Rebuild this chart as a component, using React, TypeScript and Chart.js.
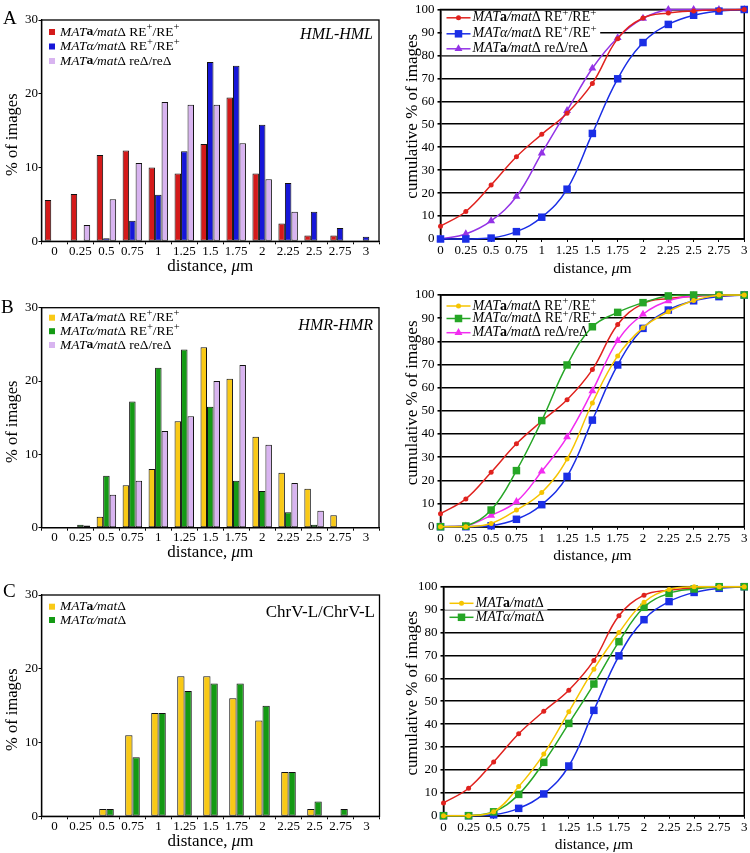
import React, { useEffect, useRef } from 'react';
import { Chart, registerables } from 'chart.js';

Chart.register(...registerables);

const FONT = "'Liberation Serif', 'Times New Roman', Times, serif";

// ---------- tick labels ----------
const distanceLabels = ['0', '0.25', '0.5', '0.75', '1', '1.25', '1.5', '1.75', '2', '2.25', '2.5', '2.75', '3'];

// ---------- Panel A : HML-HML histogram (% of images) ----------
const histHML_aRE = [5.6, 6.4, 11.7, 12.3, 10.0, 9.2, 13.2, 19.5, 9.2, 2.4, 0.8, 0.8, 0];
const histHML_alphaRE = [0, 0, 0.4, 2.8, 6.3, 12.2, 24.3, 23.8, 15.8, 7.9, 4.0, 1.8, 0.6];
const histHML_aReDelta = [0, 2.2, 5.7, 10.6, 18.9, 18.5, 18.5, 13.3, 8.4, 4.0, 0, 0, 0];

// ---------- Panel B : HMR-HMR histogram ----------
const histHMR_aRE = [0, 0, 1.5, 5.8, 8.0, 14.5, 24.6, 20.3, 12.4, 7.5, 5.3, 1.7, 0];
const histHMR_alphaRE = [0, 0.4, 7.1, 17.2, 21.8, 24.3, 16.5, 6.4, 5.0, 2.1, 0.4, 0, 0];
const histHMR_aReDelta = [0, 0.3, 4.5, 6.4, 13.2, 15.2, 20.0, 22.2, 11.3, 6.1, 2.3, 0, 0];

// ---------- Panel C : ChrV-L/ChrV-L histogram ----------
const histChrV_a = [0, 0, 1, 11, 14, 19, 19, 16, 13, 6, 1, 0, 0];
const histChrV_alpha = [0, 0, 1, 8, 14, 17, 18, 18, 15, 6, 2, 1, 0];

// ---------- cumulative % of images ----------
const cumHML_aRE = [5.6, 12, 23.5, 35.8, 45.6, 54.8, 67.8, 87.3, 96.3, 98.5, 99.4, 99.8, 100];
const cumHML_alphaRE = [0, 0, 0.4, 3.2, 9.5, 21.7, 46, 69.8, 85.6, 93.5, 97.5, 99.3, 100];
const cumHML_aReDelta = [0, 2.2, 7.9, 18.5, 37.4, 55.9, 74.4, 87.7, 96.1, 100, 100, 100, 100];

const cumHMR_aRE = [0, 0, 1.4, 7.2, 14.8, 29.2, 53.4, 73.7, 85.9, 92.8, 97.6, 100, 100];
const cumHMR_alphaRE = [0, 0.3, 7.2, 24.2, 45.8, 69.8, 86.3, 92.5, 96.7, 99.6, 100, 100, 100];
const cumHMR_aReDelta = [0, 0.3, 4.9, 10.8, 23.9, 38.7, 58.6, 80.3, 91.7, 97.4, 99.7, 100, 100];

const cumChrV_a = [0, 0, 1.7, 12.7, 26.9, 45.4, 64, 80, 93.2, 98.8, 100, 100, 100];
const cumChrV_alpha = [0, 0, 1.7, 9.3, 23.3, 40.3, 57.5, 76, 91, 97.1, 99, 100, 100];

// ---------- text ----------
type Seg = { t: string; i?: boolean; b?: boolean; sup?: boolean };

const nameARE: Seg[] = [{ t: 'MAT', i: true }, { t: 'a', b: true }, { t: '/mat', i: true }, { t: 'Δ RE' }, { t: '+', sup: true }, { t: '/RE' }, { t: '+', sup: true }];
const nameAlphaRE: Seg[] = [{ t: 'MATα/mat', i: true }, { t: 'Δ RE' }, { t: '+', sup: true }, { t: '/RE' }, { t: '+', sup: true }];
const nameAReDelta: Seg[] = [{ t: 'MAT', i: true }, { t: 'a', b: true }, { t: '/mat', i: true }, { t: 'Δ reΔ/reΔ' }];
const nameA: Seg[] = [{ t: 'MAT', i: true }, { t: 'a', b: true }, { t: '/mat', i: true }, { t: 'Δ' }];
const nameAlpha: Seg[] = [{ t: 'MATα/mat', i: true }, { t: 'Δ' }];

const panelLetters = ['A', 'B', 'C'];
const tagHML: Seg[] = [{ t: 'HML-HML', i: true }];
const tagHMR: Seg[] = [{ t: 'HMR-HMR', i: true }];
const tagChrV: Seg[] = [{ t: 'ChrV-L/ChrV-L' }];
const histYTitle: Seg[] = [{ t: '% of images' }];
const cumYTitle: Seg[] = [{ t: 'cumulative % of images' }];
const xTitle: Seg[] = [{ t: 'distance, ' }, { t: 'μ', i: true }, { t: 'm' }];

// ---------- colours ----------
const COL = {
  hRed: '#d41a1a',
  hBlue: '#1616d8',
  lavender: '#d8b4f0',
  hYellow: '#f9c916',
  hGreen: '#149a14',
  lRed: '#e0221e',
  lBlue: '#1a2ee6',
  purple: '#9333e6',
  lYellow: '#f6c400',
  lGreen: '#26a626',
  magenta: '#f22cf0',
};

// ---------- drawing helpers ----------
function fontStr(s: Seg, size: number) {
  return `${s.i ? 'italic ' : ''}${s.b ? 'bold ' : ''}${s.sup ? size * 0.78 : size}px ${FONT}`;
}
function richWidth(ctx: CanvasRenderingContext2D, segs: Seg[], size: number) {
  let w = 0;
  for (const s of segs) {
    ctx.font = fontStr(s, size);
    w += ctx.measureText(s.t).width;
  }
  return w;
}
function drawRich(ctx: CanvasRenderingContext2D, segs: Seg[], x: number, y: number, size: number, align = 'left') {
  ctx.save();
  ctx.fillStyle = '#000';
  ctx.textBaseline = 'middle';
  ctx.textAlign = 'left';
  const w = richWidth(ctx, segs, size);
  let cx = align === 'center' ? x - w / 2 : align === 'right' ? x - w : x;
  for (const s of segs) {
    ctx.font = fontStr(s, size);
    ctx.fillText(s.t, cx, s.sup ? y - size * 0.33 : y);
    cx += ctx.measureText(s.t).width;
  }
  ctx.restore();
  return w;
}
function drawMarker(ctx: CanvasRenderingContext2D, style: string, x: number, y: number, r: number, color: string) {
  ctx.save();
  ctx.fillStyle = color;
  ctx.beginPath();
  if (style === 'rect') {
    const h = r * Math.SQRT1_2;
    ctx.rect(x - h, y - h, 2 * h, 2 * h);
  } else if (style === 'triangle') {
    let a = 0;
    ctx.moveTo(x + Math.sin(a) * r, y - Math.cos(a) * r);
    a += (2 * Math.PI) / 3;
    ctx.lineTo(x + Math.sin(a) * r, y - Math.cos(a) * r);
    a += (2 * Math.PI) / 3;
    ctx.lineTo(x + Math.sin(a) * r, y - Math.cos(a) * r);
    ctx.closePath();
  } else {
    ctx.arc(x, y, r, 0, Math.PI * 2);
  }
  ctx.fill();
  ctx.restore();
}

type Box = { x: number; y: number; w: number; h: number };
type Area = { l: number; t: number; r: number; b: number };
type LegendRow = { segs: Seg[]; color: string; marker?: string; r?: number };
type Decor = {
  letter?: { text: string; x: number; y: number };
  tag?: { segs: Seg[]; size: number; dx: number; dy: number };
  yTitle: { segs: Seg[]; size: number; x: number; dy: number };
  xTitle: { segs: Seg[]; size: number; dy: number };
  legend: { kind: 'swatch' | 'line'; rows: LegendRow[]; dys: number[]; size: number };
  frame: number;
};

function decorPlugin(d: Decor) {
  return {
    id: 'decor',
    beforeDatasetsDraw(chart: any) {
      const ctx: CanvasRenderingContext2D = chart.ctx;
      const a = chart.chartArea;
      ctx.save();
      ctx.strokeStyle = '#000';
      ctx.lineWidth = d.frame;
      ctx.strokeRect(a.left, a.top, a.right - a.left, a.bottom - a.top);
      ctx.restore();
      const lg = d.legend;
      lg.rows.forEach((row, k) => {
        const y = a.top + lg.dys[k];
        if (lg.kind === 'swatch') {
          ctx.save();
          ctx.fillStyle = row.color;
          ctx.fillRect(a.left + 7.5, y - 3, 6, 6);
          ctx.restore();
          drawRich(ctx, row.segs, a.left + 18.5, y, lg.size);
        } else {
          const tw = richWidth(ctx, row.segs, lg.size);
          ctx.save();
          ctx.fillStyle = '#fff';
          ctx.fillRect(a.left + 1.5, y - 6.5, 32 + tw + 2, 13);
          ctx.strokeStyle = row.color;
          ctx.lineWidth = 1.5;
          ctx.beginPath();
          ctx.moveTo(a.left + 6, y);
          ctx.lineTo(a.left + 30, y);
          ctx.stroke();
          ctx.restore();
          drawMarker(ctx, row.marker || 'circle', a.left + 18, y, row.r || 2.5, row.color);
          drawRich(ctx, row.segs, a.left + 32, y, lg.size);
        }
      });
    },
    afterDraw(chart: any) {
      const ctx: CanvasRenderingContext2D = chart.ctx;
      const a = chart.chartArea;
      if (d.letter) {
        drawRich(ctx, [{ t: d.letter.text }], d.letter.x, d.letter.y, 19);
      }
      if (d.tag) {
        drawRich(ctx, d.tag.segs, a.right - d.tag.dx, a.top + d.tag.dy, d.tag.size, 'right');
      }
      ctx.save();
      ctx.translate(d.yTitle.x, (a.top + a.bottom) / 2 + d.yTitle.dy);
      ctx.rotate(-Math.PI / 2);
      drawRich(ctx, d.yTitle.segs, 0, 0, d.yTitle.size, 'center');
      ctx.restore();
      drawRich(ctx, d.xTitle.segs, (a.left + a.right) / 2, a.bottom + d.xTitle.dy, d.xTitle.size, 'center');
    },
  };
}

const tickFont = { family: FONT, size: 13, lineHeight: 1 };

type Series = { values: number[]; color: string; marker?: string; r?: number };

function histConfig(box: Box, area: Area, series: Series[], catPct: number, decor: Decor) {
  return {
    type: 'bar',
    data: {
      labels: distanceLabels,
      datasets: series.map((s) => ({
        data: s.values,
        backgroundColor: s.color,
        borderColor: '#111',
        borderWidth: 1,
        borderSkipped: false,
        categoryPercentage: catPct,
        barPercentage: 1,
      })),
    },
    options: {
      responsive: false,
      animation: false,
      events: [],
      layout: { padding: { left: 0, top: area.t - box.y, right: box.x + box.w - area.r, bottom: 0 } },
      plugins: { legend: { display: false }, tooltip: { enabled: false } },
      scales: {
        x: {
          type: 'category',
          offset: true,
          grid: { display: true, offset: true, drawOnChartArea: false, drawTicks: true, tickLength: 3, color: '#000', lineWidth: 1 },
          border: { display: true, color: '#000', width: 1.3 },
          ticks: { font: tickFont, color: '#000', padding: 0.5, maxRotation: 0, autoSkip: false },
          afterFit: (s: any) => {
            s.height = box.y + box.h - area.b;
          },
        },
        y: {
          min: 0,
          max: 30,
          ticks: { stepSize: 10, font: tickFont, color: '#000', padding: 0.5 },
          grid: { display: true, drawOnChartArea: false, drawTicks: true, tickLength: 3, color: '#000', lineWidth: 1 },
          border: { display: true, color: '#000', width: 1.3 },
          afterFit: (s: any) => {
            s.width = area.l - box.x;
          },
        },
      },
    },
    plugins: [decorPlugin(decor)],
  };
}

function lineConfig(box: Box, area: Area, series: Series[], decor: Decor) {
  return {
    type: 'line',
    data: {
      labels: distanceLabels,
      datasets: series.map((s) => ({
        data: s.values,
        borderColor: s.color,
        backgroundColor: s.color,
        pointBackgroundColor: s.color,
        pointBorderColor: s.color,
        pointBorderWidth: 0,
        pointStyle: s.marker,
        pointRadius: s.r,
        borderWidth: 1.5,
        tension: 0.4,
        fill: false,
        clip: false,
      })),
    },
    options: {
      responsive: false,
      animation: false,
      events: [],
      layout: { padding: { left: 0, top: area.t - box.y, right: box.x + box.w - area.r, bottom: 0 } },
      plugins: { legend: { display: false }, tooltip: { enabled: false } },
      scales: {
        x: {
          type: 'category',
          offset: false,
          grid: { display: true, drawOnChartArea: false, drawTicks: true, tickLength: 3, color: '#000', lineWidth: 1 },
          border: { display: true, color: '#000', width: 1.5 },
          ticks: { font: tickFont, color: '#000', padding: 2.5, maxRotation: 0, autoSkip: false },
          afterFit: (s: any) => {
            s.height = box.y + box.h - area.b;
          },
        },
        y: {
          min: 0,
          max: 100,
          ticks: { stepSize: 10, font: tickFont, color: '#000', padding: 3 },
          grid: { display: true, drawOnChartArea: true, drawTicks: true, tickLength: 3, color: '#000', lineWidth: 1.6 },
          border: { display: true, color: '#000', width: 1.5 },
          afterFit: (s: any) => {
            s.width = area.l - box.x;
          },
        },
      },
    },
    plugins: [decorPlugin(decor)],
  };
}

function ChartCanvas({ box, build }: { box: Box; build: () => any }) {
  const ref = useRef<HTMLCanvasElement>(null);
  useEffect(() => {
    const chart = new Chart(ref.current as HTMLCanvasElement, build());
    return () => chart.destroy();
  }, []);
  return (
    <canvas
      ref={ref}
      width={box.w}
      height={box.h}
      style={{ position: 'absolute', left: box.x, top: box.y, width: box.w, height: box.h }}
    />
  );
}

// ---------- layout ----------
const histBoxes: Box[] = [
  { x: 0, y: 0, w: 385, h: 285 },
  { x: 0, y: 285, w: 385, h: 285 },
  { x: 0, y: 570, w: 385, h: 283 },
];
const histAreas: Area[] = [
  { l: 41.5, t: 20, r: 379, b: 241.3 },
  { l: 41.5, t: 307.7, r: 379, b: 527.7 },
  { l: 41.5, t: 595, r: 379.5, b: 816.3 },
];
const lineBoxes: Box[] = [
  { x: 385, y: 0, w: 365, h: 285 },
  { x: 385, y: 285, w: 365, h: 285 },
  { x: 385, y: 570, w: 365, h: 283 },
];
const lineAreas: Area[] = [
  { l: 440.5, t: 6.7, r: 746, b: 239 },
  { l: 440.5, t: 295, r: 746, b: 526.7 },
  { l: 443.5, t: 586.7, r: 747, b: 815.7 },
];

const histYT = { segs: histYTitle, size: 16.5, x: 13, dy: 4 };
const histXT = { segs: xTitle, size: 17, dy: 25 };
const lineYT = { segs: cumYTitle, size: 17, x: 28, dy: -8 };
const lineXT = { segs: xTitle, size: 15.5, dy: 29.5 };

const redLine: Series = { values: cumHML_aRE, color: COL.lRed, marker: 'circle', r: 2.5 };
const blueLine: Series = { values: cumHML_alphaRE, color: COL.lBlue, marker: 'rect', r: 5.3 };

export default function App() {
  const hA = () =>
    histConfig(
      histBoxes[0],
      histAreas[0],
      [
        { values: histHML_aRE, color: COL.hRed },
        { values: histHML_alphaRE, color: COL.hBlue },
        { values: histHML_aReDelta, color: COL.lavender },
      ],
      0.75,
      {
        letter: { text: panelLetters[0], x: 3, y: 19 },
        tag: { segs: tagHML, size: 16, dx: 6, dy: 15 },
        yTitle: histYT,
        xTitle: histXT,
        legend: {
          kind: 'swatch',
          rows: [
            { segs: nameARE, color: COL.hRed },
            { segs: nameAlphaRE, color: COL.hBlue },
            { segs: nameAReDelta, color: COL.lavender },
          ],
          dys: [12, 26.5, 41],
          size: 13.5,
        },
        frame: 1.3,
      }
    );
  const hB = () =>
    histConfig(
      histBoxes[1],
      histAreas[1],
      [
        { values: histHMR_aRE, color: COL.hYellow },
        { values: histHMR_alphaRE, color: COL.hGreen },
        { values: histHMR_aReDelta, color: COL.lavender },
      ],
      0.75,
      {
        letter: { text: panelLetters[1], x: 1, y: 23 },
        tag: { segs: tagHMR, size: 16, dx: 6, dy: 18.3 },
        yTitle: histYT,
        xTitle: histXT,
        legend: {
          kind: 'swatch',
          rows: [
            { segs: nameARE, color: COL.hYellow },
            { segs: nameAlphaRE, color: COL.hGreen },
            { segs: nameAReDelta, color: COL.lavender },
          ],
          dys: [10, 23.5, 37.3],
          size: 13.5,
        },
        frame: 1.3,
      }
    );
  const hC = () =>
    histConfig(
      histBoxes[2],
      histAreas[2],
      [
        { values: histChrV_a, color: COL.hYellow },
        { values: histChrV_alpha, color: COL.hGreen },
      ],
      0.56,
      {
        letter: { text: panelLetters[2], x: 3, y: 22 },
        tag: { segs: tagChrV, size: 17, dx: 4.5, dy: 18 },
        yTitle: histYT,
        xTitle: histXT,
        legend: {
          kind: 'swatch',
          rows: [
            { segs: nameA, color: COL.hYellow },
            { segs: nameAlpha, color: COL.hGreen },
          ],
          dys: [11.7, 25],
          size: 13.5,
        },
        frame: 1.3,
      }
    );
  const lA = () =>
    lineConfig(
      lineBoxes[0],
      lineAreas[0],
      [redLine, blueLine, { values: cumHML_aReDelta, color: COL.purple, marker: 'triangle', r: 4.6 }],
      {
        yTitle: lineYT,
        xTitle: lineXT,
        legend: {
          kind: 'line',
          rows: [
            { segs: nameARE, color: COL.lRed, marker: 'circle', r: 2.5 },
            { segs: nameAlphaRE, color: COL.lBlue, marker: 'rect', r: 5.3 },
            { segs: nameAReDelta, color: COL.purple, marker: 'triangle', r: 4.6 },
          ],
          dys: [8.3, 24.3, 39.3],
          size: 14,
        },
        frame: 1.5,
      }
    );
  const lB = () =>
    lineConfig(
      lineBoxes[1],
      lineAreas[1],
      [
        { values: cumHMR_aRE, color: COL.lYellow, marker: 'circle', r: 2.5 },
        { values: cumHMR_alphaRE, color: COL.lGreen, marker: 'rect', r: 5.3 },
        { values: cumHMR_aReDelta, color: COL.magenta, marker: 'triangle', r: 4.6 },
        redLine,
        blueLine,
      ],
      {
        yTitle: lineYT,
        xTitle: lineXT,
        legend: {
          kind: 'line',
          rows: [
            { segs: nameARE, color: COL.lYellow, marker: 'circle', r: 2.5 },
            { segs: nameAlphaRE, color: COL.lGreen, marker: 'rect', r: 5.3 },
            { segs: nameAReDelta, color: COL.magenta, marker: 'triangle', r: 4.6 },
          ],
          dys: [11, 23.5, 37.7],
          size: 14,
        },
        frame: 1.5,
      }
    );
  const lC = () =>
    lineConfig(
      lineBoxes[2],
      lineAreas[2],
      [
        { values: cumChrV_a, color: COL.lYellow, marker: 'circle', r: 2.5 },
        { values: cumChrV_alpha, color: COL.lGreen, marker: 'rect', r: 5.3 },
        redLine,
        blueLine,
      ],
      {
        yTitle: lineYT,
        xTitle: lineXT,
        legend: {
          kind: 'line',
          rows: [
            { segs: nameA, color: COL.lYellow, marker: 'circle', r: 2.5 },
            { segs: nameAlpha, color: COL.lGreen, marker: 'rect', r: 5.3 },
          ],
          dys: [16.6, 30.6],
          size: 14,
        },
        frame: 1.5,
      }
    );

  return (
    <div style={{ position: 'absolute', left: 0, top: 0, width: 750, height: 853, background: '#fff', overflow: 'hidden' }}>
      <ChartCanvas box={histBoxes[0]} build={hA} />
      <ChartCanvas box={lineBoxes[0]} build={lA} />
      <ChartCanvas box={histBoxes[1]} build={hB} />
      <ChartCanvas box={lineBoxes[1]} build={lB} />
      <ChartCanvas box={histBoxes[2]} build={hC} />
      <ChartCanvas box={lineBoxes[2]} build={lC} />
    </div>
  );
}
